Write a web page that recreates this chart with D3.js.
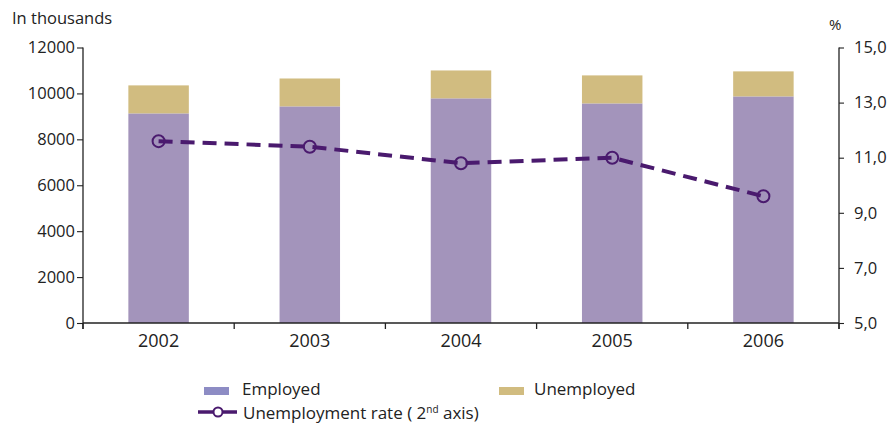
<!DOCTYPE html>
<html>
<head>
<meta charset="utf-8">
<script src="https://cdn.jsdelivr.net/npm/d3@7"></script>
<style>
  html, body { margin: 0; padding: 0; background: #fff; }
  svg { display: block; font-family: "Open Sans", "Noto Sans", sans-serif; }
</style>
</head>
<body>
<svg id="chart" width="888" height="425"></svg>
<script>
// Labour market figures, thousands of persons, and unemployment rate (%)
const years = ["2002", "2003", "2004", "2005", "2006"];
const employed = [9130, 9435, 9785, 9565, 9870];
const unemployed = [1220, 1215, 1215, 1220, 1090];
const unemploymentRate = [11.6, 11.4, 10.8, 11.0, 9.6];
const leftTicks = [0, 2000, 4000, 6000, 8000, 10000, 12000];
const rightTicks = [5, 7, 9, 11, 13, 15];

const colors = {
  employed: "#a394bb",
  employedKey: "#8d8cc4",
  unemployed: "#d1bc80",
  rate: "#4a1a6e",
  axis: "#222",
  text: "#222"
};

const svg = d3.select("#chart");
const plot = { left: 83, right: 839, top: 47.5, bottom: 323 };

const x = d3.scaleBand().domain(years).range([plot.left, plot.right]).paddingInner(0.6).paddingOuter(0.3);
const xBand = d3.scaleBand().domain(years).range([plot.left, plot.right]);
const yLeft = d3.scaleLinear().domain([0, 12000]).range([plot.bottom, plot.top]);
const yRight = d3.scaleLinear().domain([5, 15]).range([plot.bottom, plot.top]);

const rows = years.map((yr, i) => ({ year: yr, employed: employed[i], unemployed: unemployed[i] }));
const stack = d3.stack().keys(["employed", "unemployed"])(rows);

// Stacked bars
svg.append("g").selectAll("g").data(stack).join("g")
  .attr("fill", d => colors[d.key])
  .selectAll("rect").data(d => d).join("rect")
  .attr("x", d => x(d.data.year))
  .attr("width", x.bandwidth())
  .attr("y", d => yLeft(d[1]))
  .attr("height", d => yLeft(d[0]) - yLeft(d[1]));

// Left axis
const gL = svg.append("g").attr("transform", `translate(${plot.left},0)`)
  .call(d3.axisLeft(yLeft).tickValues(leftTicks).tickFormat(d3.format("d")).tickSize(6).tickPadding(2));
gL.select(".domain").attr("d", `M0,${plot.top}V${plot.bottom + 6}`);

// Right axis
const gR = svg.append("g").attr("transform", `translate(${plot.right},0)`)
  .call(d3.axisRight(yRight).tickValues(rightTicks).tickFormat(d => d3.format(".1f")(d).replace(".", ",")).tickSize(5).tickPadding(10));
gR.select(".domain").attr("d", `M0,${plot.top}V${plot.bottom + 6}`);

// Bottom axis: category dividers as ticks, labels centred in each band
const gB = svg.append("g").attr("transform", `translate(0,${plot.bottom})`);
gB.append("path").attr("d", `M${plot.left},0H${plot.right}`).attr("stroke", colors.axis).attr("stroke-width", 1.3);
const edges = years.map(y => xBand(y)).concat([plot.right]);
gB.selectAll("line.div").data(edges).join("line").attr("class", "div")
  .attr("x1", d => d).attr("x2", d => d).attr("y1", 0).attr("y2", 6)
  .attr("stroke", colors.axis).attr("stroke-width", 1.3);
gB.selectAll("text").data(years).join("text")
  .attr("x", d => xBand(d) + xBand.bandwidth() / 2)
  .attr("y", 24)
  .attr("text-anchor", "middle")
  .attr("font-size", 18)
  .attr("fill", colors.text)
  .text(d => d);

[gL, gR].forEach(g => {
  g.selectAll(".domain").attr("stroke", colors.axis).attr("stroke-width", 1.3);
  g.selectAll(".tick line").attr("stroke", colors.axis).attr("stroke-width", 1.1);
  g.selectAll(".tick text").attr("font-size", 16.5).attr("fill", colors.text).attr("font-family", "Open Sans, sans-serif");
});

// Axis titles
svg.append("text").attr("x", 12).attr("y", 24).attr("font-size", 16.5).attr("fill", colors.text).text("In thousands");
svg.append("text").attr("x", 829).attr("y", 30).attr("font-size", 15).attr("fill", colors.text).text("%");

// Unemployment rate line on the secondary axis
const cx = d => xBand(d) + xBand.bandwidth() / 2;
const line = d3.line().x((d, i) => cx(years[i])).y(d => yRight(d));
svg.append("path").datum(unemploymentRate)
  .attr("d", line)
  .attr("fill", "none")
  .attr("stroke", colors.rate)
  .attr("stroke-width", 4)
  .attr("stroke-dasharray", "14,8");
svg.append("g").selectAll("circle").data(unemploymentRate).join("circle")
  .attr("cx", (d, i) => cx(years[i]))
  .attr("cy", d => yRight(d))
  .attr("r", 6)
  .attr("fill", "none")
  .attr("stroke", colors.rate)
  .attr("stroke-width", 2);

// Legend
const legend = svg.append("g").attr("font-size", 17).attr("fill", colors.text);
legend.append("rect").attr("x", 204).attr("y", 387).attr("width", 25).attr("height", 8).attr("fill", colors.employedKey);
legend.append("text").attr("x", 242).attr("y", 395).text("Employed");
legend.append("rect").attr("x", 499).attr("y", 387).attr("width", 25).attr("height", 8).attr("fill", colors.unemployed);
legend.append("text").attr("x", 534).attr("y", 395).text("Unemployed");
legend.append("line").attr("x1", 198).attr("x2", 237).attr("y1", 412).attr("y2", 412)
  .attr("stroke", colors.rate).attr("stroke-width", 3.5);
legend.append("circle").attr("cx", 218).attr("cy", 412).attr("r", 4.5)
  .attr("fill", "#fff").attr("stroke", colors.rate).attr("stroke-width", 2);
const lt = legend.append("text").attr("x", 243).attr("y", 419);
lt.append("tspan").text("Unemployment rate (  2");
lt.append("tspan").attr("dy", -6).attr("font-size", 10).text("nd");
lt.append("tspan").attr("dy", 6).text(" axis)");
</script>
</body>
</html>
